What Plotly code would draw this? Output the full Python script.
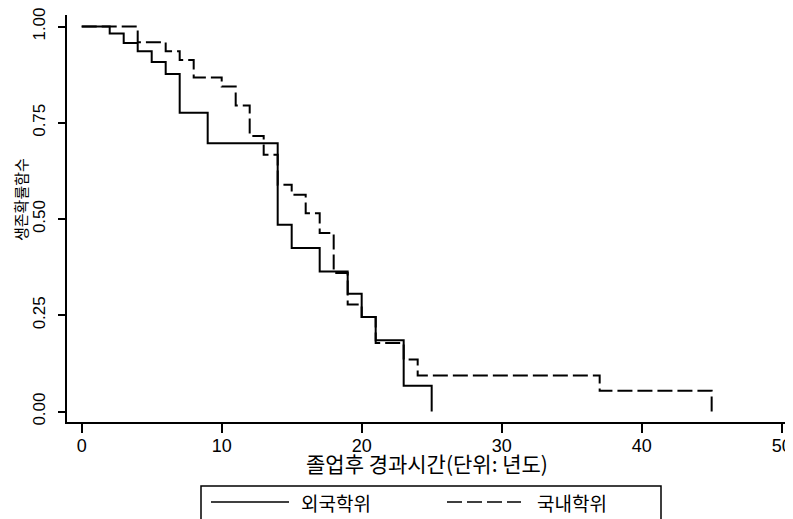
import plotly.graph_objects as go

# Kaplan-Meier survival estimates
foreign_time = [0, 2, 3, 4, 5, 6, 7, 9, 14, 15, 17, 19, 20, 21, 23, 25]
foreign_surv = [1.0, 0.982, 0.957, 0.936, 0.908, 0.877, 0.776, 0.697, 0.485,
                0.425, 0.364, 0.306, 0.246, 0.185, 0.067, 0.0]

domestic_time = [0, 4, 6, 7, 8, 10, 11, 12, 13, 14, 15, 16, 17, 18, 19, 20,
                 21, 23, 24, 37, 45]
domestic_surv = [1.0, 0.959, 0.936, 0.913, 0.868, 0.844, 0.795, 0.716, 0.667,
                 0.589, 0.563, 0.515, 0.464, 0.360, 0.278, 0.246, 0.178, 0.135,
                 0.094, 0.054, 0.0]

series_names = ["외국학위", "국내학위"]
x_ticks = [0, 10, 20, 30, 40, 50]
y_ticks = [0.0, 0.25, 0.5, 0.75, 1.0]
x_title = "졸업후 경과시간(단위: 년도)"
y_title = "생존확률함수"

FONT = "Liberation Sans, Arial, Noto Sans CJK KR, sans-serif"
KFONT = "Noto Sans CJK KR, sans-serif"

# the page body adds an 8px margin; lay out in window pixels minus that
OFF = 8
W, H = 793 - OFF, 519 - OFF
L, R, T = 67 - OFF, 0, 15 - OFF
B = H - (422 - OFF)
PW, PH = W - L - R, H - T - B


def px(xw):
    return (xw - OFF - L) / PW


def py(yw):
    return (H - B - (yw - OFF)) / PH


DASH = "15px,5px"

fig = go.Figure()
fig.add_trace(go.Scatter(
    x=foreign_time, y=foreign_surv, mode="lines", line_shape="hv",
    name=series_names[0], line=dict(color="black", width=2)))
fig.add_trace(go.Scatter(
    x=domestic_time, y=domestic_surv, mode="lines", line_shape="hv",
    name=series_names[1], line=dict(color="black", width=2, dash=DASH)))

# legend drawn as a framed key below the plot
shapes = [
    dict(type="rect", xref="paper", yref="paper",
         x0=px(201), x1=px(661), y0=py(530), y1=py(486),
         line=dict(color="black", width=1.5), fillcolor="white"),
    dict(type="line", xref="paper", yref="paper",
         x0=px(211), x1=px(289), y0=py(502), y1=py(502),
         line=dict(color="black", width=1.5)),
    dict(type="line", xref="paper", yref="paper",
         x0=px(447), x1=px(521), y0=py(502), y1=py(502),
         line=dict(color="black", width=1.5, dash=DASH)),
]

annotations = [
    dict(text=y_title, textangle=-90, xref="paper", yref="paper",
         x=px(20), y=py(200), xanchor="center", yanchor="middle",
         showarrow=False, font=dict(size=15, family=KFONT)),
    dict(text=x_title, xref="paper", yref="paper",
         x=px(427), y=py(463), xanchor="center", yanchor="middle",
         showarrow=False, font=dict(size=21, family=KFONT)),
    dict(text=series_names[0], xref="paper", yref="paper",
         x=px(299), y=py(502), xanchor="left", yanchor="middle",
         showarrow=False, font=dict(size=19, family=KFONT)),
    dict(text=series_names[1], xref="paper", yref="paper",
         x=px(535), y=py(502), xanchor="left", yanchor="middle",
         showarrow=False, font=dict(size=19, family=KFONT)),
]

fig.update_layout(
    width=W, height=H,
    margin=dict(l=L, r=R, t=T, b=B),
    paper_bgcolor="white", plot_bgcolor="white",
    font=dict(family=FONT, color="black", size=16),
    showlegend=False,
    shapes=shapes,
    annotations=annotations,
    xaxis=dict(
        range=[-1.05, 50.81], tickvals=x_ticks, showgrid=False, zeroline=False,
        showline=True, linecolor="black", linewidth=2, automargin=False,
        ticks="outside", ticklen=9, tickwidth=2, tickcolor="black",
        ticklabelstandoff=-3, ticklabeloverflow="allow",
        tickfont=dict(size=18),
    ),
    yaxis=dict(
        range=[-0.027, 1.030], tickvals=y_ticks, tickformat=".2f",
        showgrid=False, zeroline=False, automargin=False,
        showline=True, linecolor="black", linewidth=2,
        ticks="outside", ticklen=7, tickwidth=2, tickcolor="black",
        tickangle=-90, ticklabelstandoff=6, ticklabeloverflow="allow",
        tickfont=dict(size=17),
    ),
)

fig.write_html("out.html")
